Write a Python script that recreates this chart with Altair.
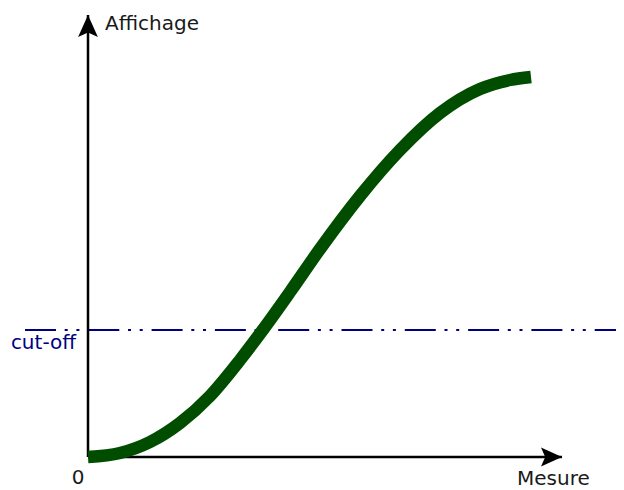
import altair as alt
import pandas as pd

# Curve (origin of the axes = 0,0)
mesure = [0, 32, 62, 92, 122, 152, 174, 202, 232, 272, 312, 352, 392, 422, 443]
affichage = [0, 4, 15, 34, 61, 97, 126, 165, 208, 261, 307, 344, 368, 377, 380]

cutoff_level = 127
cutoff_start = -63
cutoff_end = 536
x_axis_end = 474
y_axis_end = 442

label_text = ["Affichage", "Mesure", "0"]
label_x = [17, 429, -10]
label_y = [427, -28, -27]
label_align = ["left", "left", "center"]

cutoff_label = "cut-off"
cutoff_label_x = -12
cutoff_label_y = 108

X_DOMAIN = [-80, 528]
Y_DOMAIN = [-33, 449]

xs = alt.Scale(domain=X_DOMAIN, nice=False, zero=False)
ys = alt.Scale(domain=Y_DOMAIN, nice=False, zero=False)

curve_df = pd.DataFrame({"x": mesure, "y": affichage})
cut_df = pd.DataFrame({"x": [cutoff_start], "x2": [cutoff_end], "y": [cutoff_level]})
vaxis_df = pd.DataFrame({"x": [0], "y": [0], "y2": [y_axis_end]})
haxis_df = pd.DataFrame({"x": [0], "x2": [x_axis_end], "y": [0]})
up_df = pd.DataFrame({"x": [0], "y": [y_axis_end]})
right_df = pd.DataFrame({"x": [x_axis_end], "y": [0]})
lab_df = pd.DataFrame({"t": label_text, "x": label_x, "y": label_y, "a": label_align})
cut_lab_df = pd.DataFrame({"t": [cutoff_label], "x": [cutoff_label_x], "y": [cutoff_label_y]})

X = lambda f="x": alt.X(f, type="quantitative", scale=xs, axis=None)
Y = lambda f="y": alt.Y(f, type="quantitative", scale=ys, axis=None)

cut = alt.Chart(cut_df).mark_rule(
    color="#000080", strokeWidth=2.2, strokeDash=[31, 8.7, 3, 8.7, 3, 8.9]
).encode(x=X(), x2="x2", y=Y())

vaxis = alt.Chart(vaxis_df).mark_rule(color="black", strokeWidth=2.5).encode(
    x=X(), y=Y(), y2="y2")
haxis = alt.Chart(haxis_df).mark_rule(color="black", strokeWidth=2.5).encode(
    x=X(), x2="x2", y=Y())

up = alt.Chart(up_df).mark_point(
    shape="M0,0L0.9,2L0,1.6L-0.9,2Z", size=484, filled=True, color="black",
    opacity=1, strokeWidth=0
).encode(x=X(), y=Y())
right = alt.Chart(right_df).mark_point(
    shape="M0,0L-2,-0.9L-1.6,0L-2,0.9Z", size=441, filled=True, color="black",
    opacity=1, strokeWidth=0
).encode(x=X(), y=Y())

curve = alt.Chart(curve_df).mark_line(
    color="#004d00", strokeWidth=12.5, interpolate="monotone", strokeCap="butt"
).encode(x=X(), y=Y())

labs_left = alt.Chart(lab_df[lab_df.a == "left"]).mark_text(
    align="left", baseline="alphabetic", font="DejaVu Sans", fontSize=20, color="#1a1a1a"
).encode(x=X(), y=Y(), text="t:N")
labs_center = alt.Chart(lab_df[lab_df.a == "center"]).mark_text(
    align="center", baseline="alphabetic", font="DejaVu Sans", fontSize=20, color="#1a1a1a"
).encode(x=X(), y=Y(), text="t:N")
cut_lab = alt.Chart(cut_lab_df).mark_text(
    align="right", baseline="alphabetic", font="DejaVu Sans", fontSize=20, color="#000080"
).encode(x=X(), y=Y(), text="t:N")

chart = alt.layer(cut, vaxis, haxis, up, right, curve, labs_left, labs_center, cut_lab).properties(
    width=608, height=482, autosize=alt.AutoSizeParams(type="none"), padding=0,
    background="white"
).configure_view(stroke=None)

chart.save("out.html", embed_options={"renderer": "svg", "actions": False})
